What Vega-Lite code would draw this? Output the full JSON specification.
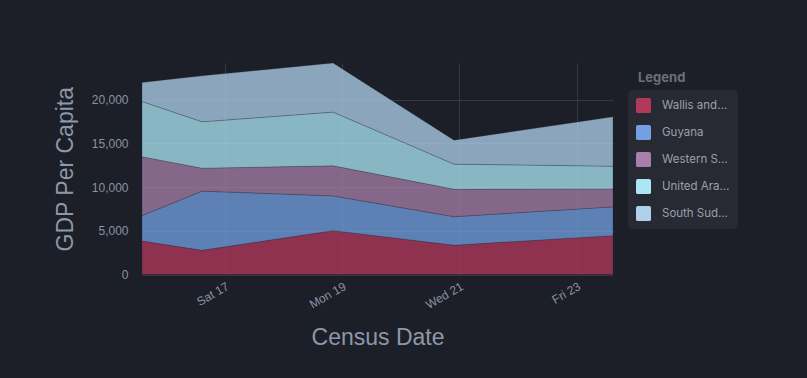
{
  "$schema": "https://vega.github.io/schema/vega-lite/v6.json",
  "width": 471,
  "height": 211.5,
  "autosize": {"type": "none"},
  "padding": {"left": 142, "top": 63, "right": 194, "bottom": 103.5},
  "background": "#1c1f27",
  "config": {
    "view": {"stroke": null},
    "font": "Liberation Sans"
  },
  "title": {
    "text": "Legend",
    "anchor": "start",
    "orient": "top",
    "frame": "group",
    "font": "Inter",
    "fontSize": 13,
    "fontWeight": "bold",
    "color": "#6b6f78",
    "offset": 0,
    "baseline": "bottom",
    "dx": 496,
    "dy": 37
  },
  "data": {
    "values": [
      {"date": "2024-08-15T14:08:00", "country": "Wallis and Futuna", "gdp": 3840},
      {"date": "2024-08-15T14:08:00", "country": "Guyana", "gdp": 2900},
      {"date": "2024-08-15T14:08:00", "country": "Western Sahara", "gdp": 6730},
      {"date": "2024-08-15T14:08:00", "country": "United Arab Emirates", "gdp": 6340},
      {"date": "2024-08-15T14:08:00", "country": "South Sudan", "gdp": 2180},
      {"date": "2024-08-16T14:42:00", "country": "Wallis and Futuna", "gdp": 2770},
      {"date": "2024-08-16T14:42:00", "country": "Guyana", "gdp": 6770},
      {"date": "2024-08-16T14:42:00", "country": "Western Sahara", "gdp": 2630},
      {"date": "2024-08-16T14:42:00", "country": "United Arab Emirates", "gdp": 5310},
      {"date": "2024-08-16T14:42:00", "country": "South Sudan", "gdp": 5260},
      {"date": "2024-08-18T20:20:00", "country": "Wallis and Futuna", "gdp": 5020},
      {"date": "2024-08-18T20:20:00", "country": "Guyana", "gdp": 3980},
      {"date": "2024-08-18T20:20:00", "country": "Western Sahara", "gdp": 3440},
      {"date": "2024-08-18T20:20:00", "country": "United Arab Emirates", "gdp": 6150},
      {"date": "2024-08-18T20:20:00", "country": "South Sudan", "gdp": 5620},
      {"date": "2024-08-20T21:50:00", "country": "Wallis and Futuna", "gdp": 3350},
      {"date": "2024-08-20T21:50:00", "country": "Guyana", "gdp": 3270},
      {"date": "2024-08-20T21:50:00", "country": "Western Sahara", "gdp": 3140},
      {"date": "2024-08-20T21:50:00", "country": "United Arab Emirates", "gdp": 2870},
      {"date": "2024-08-20T21:50:00", "country": "South Sudan", "gdp": 2750},
      {"date": "2024-08-23T14:53:00", "country": "Wallis and Futuna", "gdp": 4450},
      {"date": "2024-08-23T14:53:00", "country": "Guyana", "gdp": 3290},
      {"date": "2024-08-23T14:53:00", "country": "Western Sahara", "gdp": 2060},
      {"date": "2024-08-23T14:53:00", "country": "United Arab Emirates", "gdp": 2600},
      {"date": "2024-08-23T14:53:00", "country": "South Sudan", "gdp": 5650}
    ]
  },
  "transform": [
    {"calculate": "indexof(['Wallis and Futuna','Guyana','Western Sahara','United Arab Emirates','South Sudan'], datum.country)", "as": "ord"}
  ],
  "mark": {"type": "area", "opacity": 0.76, "stroke": "#1c1f27", "strokeWidth": 1, "strokeOpacity": 0.25},
  "encoding": {
    "x": {
      "field": "date",
      "type": "temporal",
      "scale": {"nice": false, "padding": 0},
      "title": "Census Date",
      "axis": {
        "format": "%a %d",
        "tickCount": {"interval": "day", "step": 2},
        "labelAngle": -30,
        "labelAlign": "right",
        "labelBaseline": "top",
        "labelFont": "Liberation Sans",
        "labelFontSize": 12,
        "labelColor": "#8a92a3",
        "labelPadding": 6,
        "domain": false,
        "ticks": false,
        "grid": true,
        "gridColor": "#333847",
        "gridWidth": 1,
        "titleFont": "Liberation Sans",
        "titleFontSize": 23,
        "titleFontWeight": "normal",
        "titleColor": "#8e97a8",
        "titlePadding": 16
      }
    },
    "y": {
      "field": "gdp",
      "type": "quantitative",
      "stack": "zero",
      "scale": {"nice": false, "domain": [0, 24210]},
      "title": "GDP Per Capita",
      "axis": {
        "values": [0, 5000, 10000, 15000, 20000],
        "format": ",d",
        "labelFont": "Liberation Sans",
        "labelFontSize": 12,
        "labelColor": "#8a92a3",
        "labelPadding": 14,
        "domain": false,
        "ticks": false,
        "grid": true,
        "gridColor": "#333847",
        "titleFont": "Liberation Sans",
        "titleFontSize": 23,
        "titleFontWeight": "normal",
        "titleColor": "#8e97a8",
        "titlePadding": 14
      }
    },
    "color": {
      "field": "country",
      "type": "nominal",
      "sort": ["Wallis and Futuna", "Guyana", "Western Sahara", "United Arab Emirates", "South Sudan"],
      "scale": {
        "domain": ["Wallis and Futuna", "Guyana", "Western Sahara", "United Arab Emirates", "South Sudan"],
        "range": ["#b2385c", "#72a0e2", "#a77fa8", "#aae6f3", "#aed0eb"]
      },
      "legend": {
        "title": null,
        "orient": "none",
        "legendX": 486,
        "legendY": 27,
        "labelFont": "Inter",
        "labelFontSize": 11.5,
        "labelColor": "#9ca0aa",
        "labelLimit": 68,
        "labelOffset": 11,
        "symbolType": "M-0.75,-1L0.75,-1Q1,-1 1,-0.75L1,0.75Q1,1 0.75,1L-0.75,1Q-1,1 -1,0.75L-1,-0.75Q-1,-1 -0.75,-1Z",
        "symbolSize": 225,
        "symbolOpacity": 1,
        "symbolStrokeWidth": 0,
        "rowPadding": 12,
        "fillColor": "#272a33",
        "cornerRadius": 4,
        "padding": 8
      }
    },
    "order": {"field": "ord", "type": "quantitative"}
  }
}
